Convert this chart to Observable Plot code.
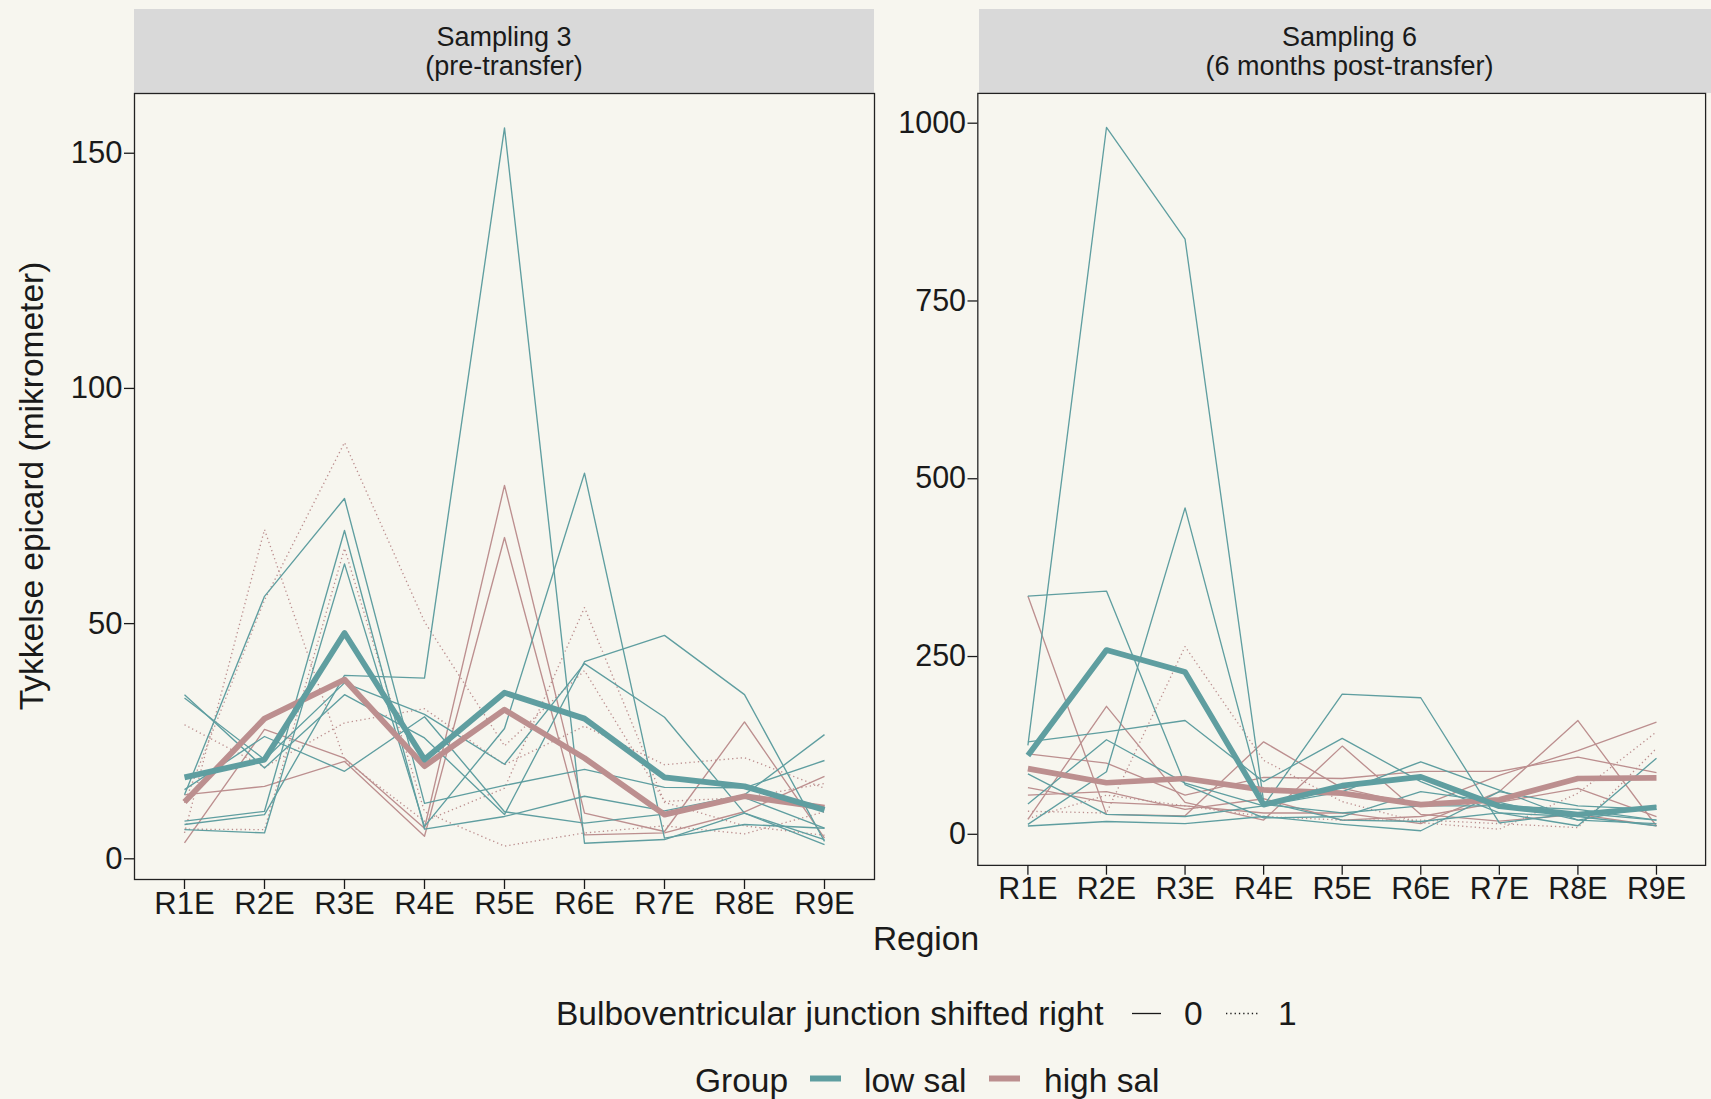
<!DOCTYPE html>
<html>
<head>
<meta charset="utf-8">
<script src="https://cdn.jsdelivr.net/npm/d3@7"></script>
<script src="https://cdn.jsdelivr.net/npm/@observablehq/plot@0.6"></script>
<style>
html, body { margin: 0; padding: 0; background: #f7f6ef; overflow: hidden; }
#root { position: relative; width: 1711px; height: 1099px; overflow: hidden; background: #f7f6ef;
  font-family: "Liberation Sans", Arial, Helvetica, sans-serif; color: #1a1a1a; }
.strip { position: absolute; top: 9px; height: 84px; background: #d9d9d9; display: flex; flex-direction: column;
  justify-content: center; align-items: center; font-size: 27px; line-height: 29.5px; color: #1a1a1a; padding-top: 2px; box-sizing: border-box; }
.panel { position: absolute; top: 88px; }
#overlay { position: absolute; left: 0; top: 0; }
</style>
</head>
<body>
<div id="root">
  <div class="strip" style="left:134px;width:740px;"><div>Sampling 3</div><div>(pre-transfer)</div></div>
  <div class="strip" style="left:979px;width:741px;"><div>Sampling 6</div><div>(6 months post-transfer)</div></div>
  <div class="panel" id="p1" style="left:0px;"></div>
  <div class="panel" id="p2" style="left:885px;"></div>
  <svg id="overlay" width="1711" height="1099"></svg>
</div>
<script>
// ---------- data ----------
const regions = ["R1E", "R2E", "R3E", "R4E", "R5E", "R6E", "R7E", "R8E", "R9E"];
const groups = ["low sal", "high sal"];
const shiftLevels = ["0", "1"];

// Sampling 3 (pre-transfer): individual fish, low sal (all shifted = 0)
const s3Low = [
  [7.3, 9.4, 39, 38.4, 155.4, 3.3, 4.1, 9.7, 3.0],
  [6.2, 5.5, 62.7, 6.9, 27.7, 82, 4.4, 7.3, 6.5],
  [34.9, 19.3, 34.9, 25.7, 9.4, 41.9, 47.5, 34.9, 3.7],
  [34.2, 21.1, 37.4, 30.7, 20.1, 41.5, 30.1, 9.7, 4.1],
  [13.6, 55.8, 76.6, 11.8, 15.6, 19, 15.2, 15.1, 20.9],
  [8, 10.1, 69.8, 6.3, 9.0, 13.3, 10.2, 13.6, 26.4],
  [14.7, 26, 18.6, 30.2, 10, 7.6, 9.5, 13, 6.5]
];
// Sampling 3, high sal, shifted = 0
const s3HighShift0 = [
  [3.4, 27.5, 21.4, 6.5, 79.4, 9.7, 5.8, 29.1, 4.4],
  [13.6, 15.4, 20.7, 4.8, 68.3, 5.1, 5.5, 10, 17.5]
];
// Sampling 3, high sal, shifted = 1
const s3HighShift1 = [
  [11.9, 55, 88.5, 50.4, 24, 40, 12.2, 13, 16],
  [5.5, 70, 21, 8, 15, 53.4, 12, 7, 5],
  [28.5, 19.5, 28.9, 31.9, 20, 28.2, 20, 21.5, 15],
  [6.3, 6.2, 66, 10, 2.7, 5.5, 7, 5.3, 10]
];
const s3MeanLow = [17.3, 21.1, 48.0, 21.1, 35.3, 29.8, 17.3, 15.4, 10.4];
const s3MeanHigh = [12.1, 29.8, 38.1, 19.7, 31.7, 21.4, 9.4, 13.3, 10.9];

// Sampling 6 (6 months post-transfer)
const s6Low = [
  [125, 994, 837, 46, 20, 18, 30, 25, 12],
  [335, 342, 70, 23, 25, 60, 45, 20, 15],
  [14, 88, 459, 42, 30, 40, 40, 35, 20],
  [130, 144, 160, 74, 135, 74, 30, 12, 107],
  [42.6, 133, 72, 40, 197, 192, 16, 30, 20],
  [85, 28, 25, 40, 60, 102, 62, 20, 40],
  [11.7, 18, 15, 25, 14, 5, 60, 40, 35]
];
const s6HighShift0 = [
  [335, 28, 26, 130, 65, 40, 83, 117.7, 157.8],
  [21, 180, 45, 20, 124, 28, 18.6, 28, 12],
  [113, 100, 55, 80, 78.5, 88.6, 88.6, 108.5, 86.8],
  [65.6, 45, 40, 30, 30, 15, 60, 160, 11.7],
  [55, 60, 35, 50, 20, 25, 45, 64.7, 25]
];
const s6HighShift1 = [
  [32.4, 30, 264, 104, 46, 16.4, 7.1, 57.8, 144],
  [22, 55, 40, 25, 20, 20, 15, 9.4, 120.9]
];
const s6MeanLow = [110.8, 259.1, 228.3, 41.7, 68.4, 80.8, 39.4, 27.8, 38.0];
const s6MeanHigh = [92.3, 72.5, 78.5, 62.4, 57.8, 41.7, 48.6, 78.5, 79.4];

const s3YTicks = [0, 50, 100, 150];
const s6YTicks = [0, 250, 500, 750, 1000];

// ---------- helpers ----------
const colors = ["#5F9EA0", "#BC8F8F"];
function toRows(lines, group, prefix) {
  const rows = [];
  lines.forEach((vals, i) => vals.forEach((v, j) => rows.push({id: prefix + i, group, region: regions[j], value: v})));
  return rows;
}
function meanRows(vals, group) {
  return vals.map((v, j) => ({id: "mean-" + group, group, region: regions[j], value: v}));
}

function makePanel({low, high0, high1, mLow, mHigh, yDomain, yTicks, marginLeft, width}) {
  const thin = {x: "region", y: "value", z: "id", stroke: "group", strokeWidth: 1.35, strokeLinecap: "butt", strokeLinejoin: "round"};
  const thick = {x: "region", y: "value", z: "id", stroke: "group", strokeWidth: 5.8, strokeLinecap: "butt", strokeLinejoin: "round"};
  return Plot.plot({
    width, height: 851,
    marginLeft, marginRight: 6, marginTop: 5, marginBottom: 60,
    style: {background: "transparent", fontFamily: "'Liberation Sans', Arial, sans-serif", fontSize: "31px", color: "#1a1a1a", overflow: "visible"},
    x: {type: "point", domain: regions, padding: 0.6, label: null},
    y: {domain: yDomain, label: null},
    color: {domain: groups, range: colors},
    marks: [
      Plot.line(toRows(high0, "high sal", "h0-"), thin),
      Plot.line(toRows(high1, "high sal", "h1-"), {...thin, strokeDasharray: "1.3,3"}),
      Plot.line(toRows(low, "low sal", "l-"), thin),
      Plot.line(meanRows(mHigh, "high sal"), thick),
      Plot.line(meanRows(mLow, "low sal"), thick),
      Plot.frame({stroke: "#222", strokeWidth: 1.3}),
      Plot.axisX({tickSize: 10, tickPadding: 2, strokeWidth: 1.3, label: null}),
      Plot.axisY({ticks: yTicks, tickFormat: d => String(d), tickSize: 10, tickPadding: 2, strokeWidth: 1.3, label: null})
    ]
  });
}

document.getElementById("p1").append(makePanel({
  low: s3Low, high0: s3HighShift0, high1: s3HighShift1, mLow: s3MeanLow, mHigh: s3MeanHigh,
  yDomain: [-4.4, 162.7], yTicks: s3YTicks, marginLeft: 134, width: 880
}));
document.getElementById("p2").append(makePanel({
  low: s6Low, high0: s6HighShift0, high1: s6HighShift1, mLow: s6MeanLow, mHigh: s6MeanHigh,
  yDomain: [-43.7, 1041.9], yTicks: s6YTicks, marginLeft: 94, width: 841
}));

// ---------- titles and legends ----------
const ns = "http://www.w3.org/2000/svg";
const ov = document.getElementById("overlay");
function el(tag, attrs, text) {
  const e = document.createElementNS(ns, tag);
  for (const k in attrs) e.setAttribute(k, attrs[k]);
  if (text != null) e.textContent = text;
  ov.appendChild(e);
  return e;
}
const tf = {"font-family": "'Liberation Sans', Arial, sans-serif", "font-size": 33.5, fill: "#1a1a1a"};
el("text", {...tf, x: 43, y: 486, "text-anchor": "middle", transform: "rotate(-90 43 486)"}, "Tykkelse epicard (mikrometer)");
el("text", {...tf, x: 926, y: 950, "text-anchor": "middle"}, "Region");

// linetype legend
el("text", {...tf, x: 556, y: 1025}, "Bulboventricular junction shifted right");
el("line", {x1: 1132, x2: 1161, y1: 1013.5, y2: 1013.5, stroke: "#1a1a1a", "stroke-width": 1.3});
el("text", {...tf, x: 1184, y: 1025}, shiftLevels[0]);
el("line", {x1: 1226, x2: 1258, y1: 1013.5, y2: 1013.5, stroke: "#1a1a1a", "stroke-width": 1.3, "stroke-dasharray": "1.3,3"});
el("text", {...tf, x: 1278, y: 1025}, shiftLevels[1]);

// group legend
el("text", {...tf, x: 695, y: 1092}, "Group");
el("line", {x1: 810, x2: 841, y1: 1078.5, y2: 1078.5, stroke: colors[0], "stroke-width": 6});
el("text", {...tf, x: 864, y: 1092}, groups[0]);
el("line", {x1: 989, x2: 1020, y1: 1078.5, y2: 1078.5, stroke: colors[1], "stroke-width": 6});
el("text", {...tf, x: 1044, y: 1092}, groups[1]);
</script>
</body>
</html>
